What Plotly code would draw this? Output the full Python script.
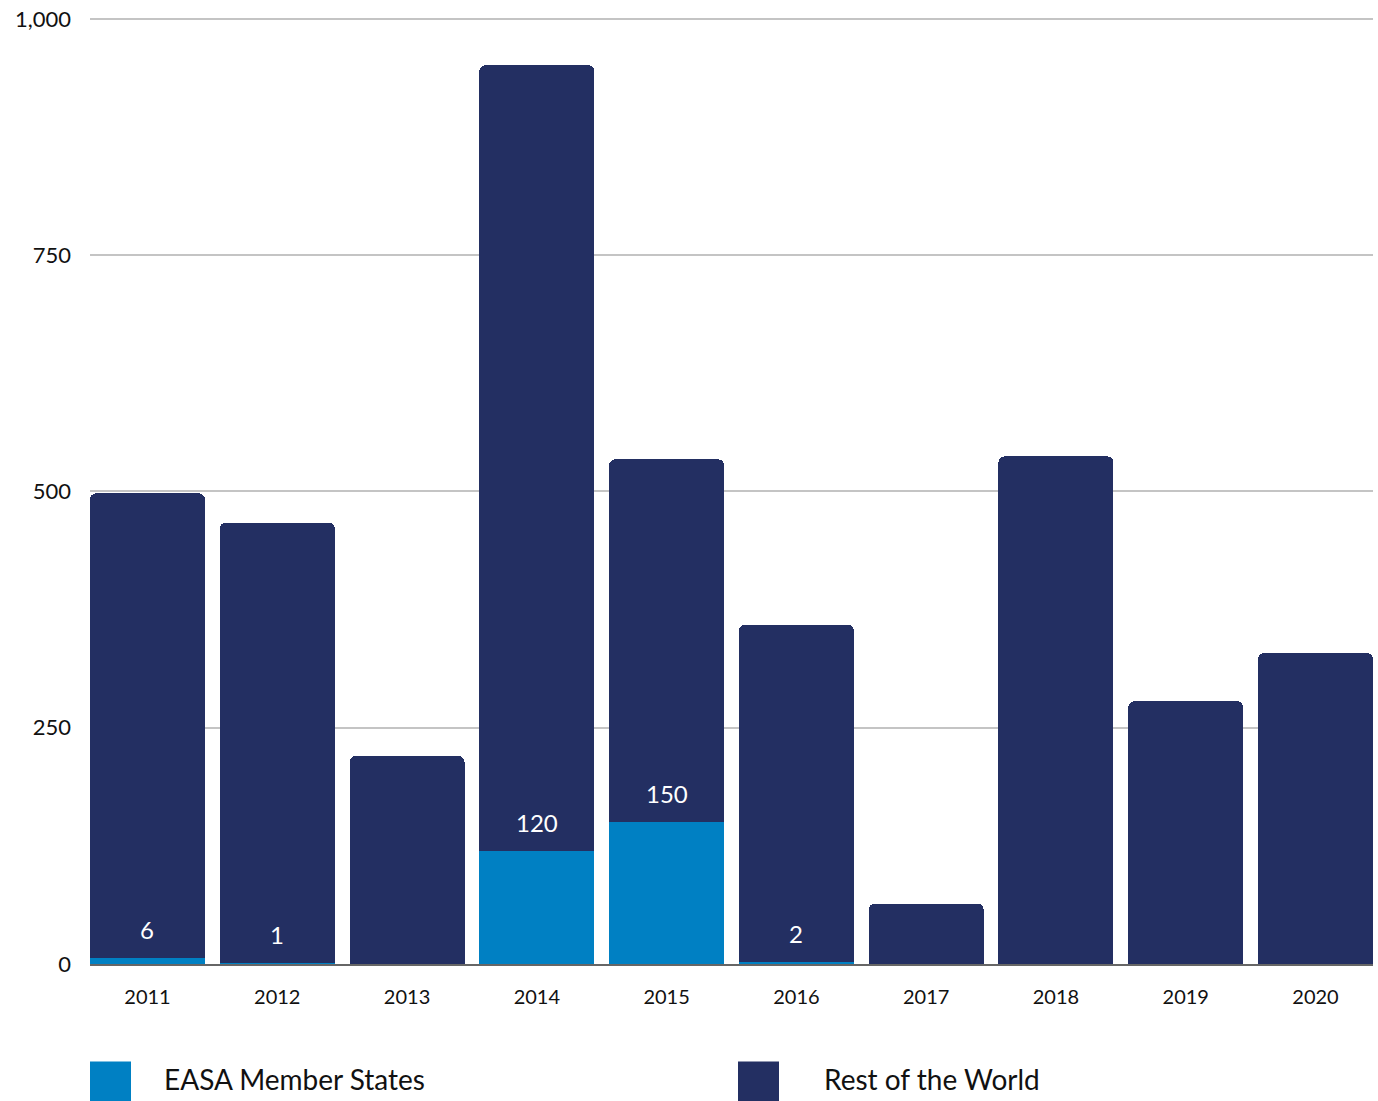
import plotly.graph_objects as go

years = ["2011", "2012", "2013", "2014", "2015", "2016", "2017", "2018", "2019", "2020"]
easa = [6, 1, 0, 120, 150, 2, 0, 0, 0, 0]
total = [498, 467, 220, 951, 534, 359, 64, 537, 278, 329]
rest = [t - e for t, e in zip(total, easa)]
y_ticks = [0, 250, 500, 750, 1000]
y_tick_labels = ["0", "250", "500", "750", "1,000"]

C_EASA = "#0080C3"
C_REST = "#232F62"
FONT = "Lato"

fig = go.Figure()
fig.add_trace(go.Bar(x=years, y=easa, name="EASA Member States",
                     marker=dict(color=C_EASA, line=dict(width=0))))
fig.add_trace(go.Bar(x=years, y=rest, name="Rest of the World",
                     marker=dict(color=C_REST, line=dict(width=0))))

for i, v in enumerate(easa):
    if v > 0:
        fig.add_annotation(x=i, y=v, xref="x", yref="y", text=str(v), showarrow=False,
                           yanchor="bottom", yshift=12,
                           font=dict(family=FONT, size=24, color="white"))

# custom legend (large square swatches)
W, H = 1283, 953
def px_x(p):
    return (p - 90) / W
def px_y(p):
    return (964 - p) / H

legend_items = [("EASA Member States", C_EASA, 90, 165), ("Rest of the World", C_REST, 738, 825)]
for label, col, sx, tx in legend_items:
    fig.add_shape(type="rect", xref="paper", yref="paper",
                  x0=px_x(sx), x1=px_x(sx + 41), y0=px_y(1062), y1=px_y(1110),
                  fillcolor=col, line=dict(width=0))
    fig.add_annotation(xref="paper", yref="paper", x=px_x(tx - 3), y=px_y(1080),
                       xanchor="left", yanchor="middle", showarrow=False,
                       text=label, font=dict(family=FONT, size=28, color="#111111"))

fig.update_layout(
    width=1378, height=1101,
    margin=dict(l=90, r=5, t=11, b=137),
    paper_bgcolor="white", plot_bgcolor="white",
    barmode="stack", bargap=0.114, barcornerradius=6,
    showlegend=False,
    font=dict(family=FONT, size=20, color="#111111"),
    xaxis=dict(type="category", range=[-0.443, 9.443], showgrid=False,
               showline=True, linecolor="#666666", linewidth=2,
               ticks="", tickfont=dict(size=20, family=FONT), ticklabelstandoff=14),
    yaxis=dict(range=[0, 1002], tickvals=y_ticks, ticktext=y_tick_labels,
               showgrid=True, gridcolor="#C4C4C4", gridwidth=2,
               zeroline=False, showline=False, ticks="", ticklabeloverflow="allow",
               tickfont=dict(size=22, family=FONT), ticklabelstandoff=18),
)

fig.write_html("out.html")
